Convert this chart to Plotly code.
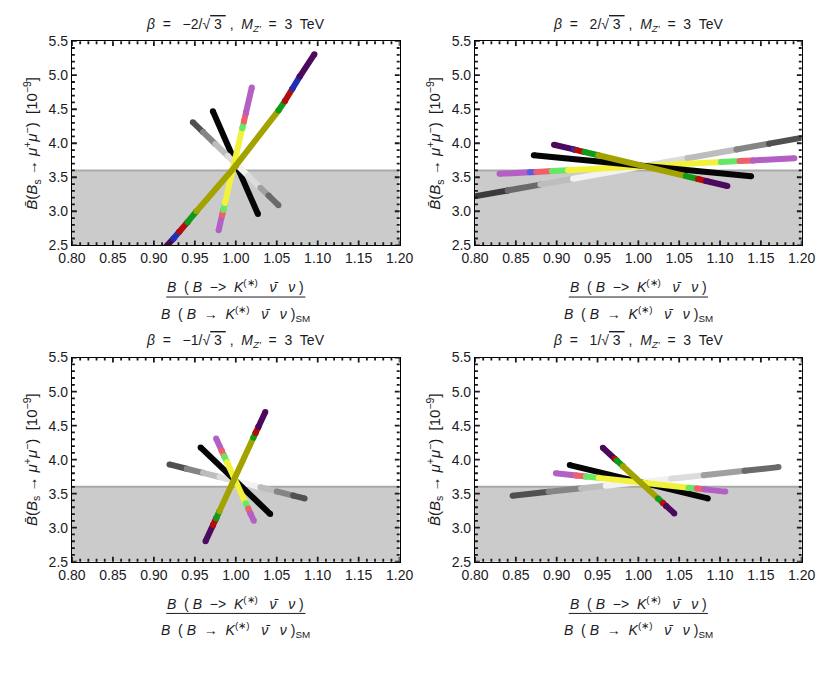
import plotly.graph_objects as go

# ---------------- data ----------------
X_RANGE = [0.80, 1.20]
Y_RANGE = [2.5, 5.5]
X_TICK0, X_DTICK, X_MINOR = 0.80, 0.05, 0.01
Y_TICK0, Y_DTICK, Y_MINOR = 2.5, 0.5, 0.1
BS_BOUND = 3.6  # upper end of the shaded band

TITLES = [
    "<i>β</i>  =   −2/√<span style='text-decoration:overline'> 3 </span> ,  <i>M</i><sub><i>Z′</i></sub>  =  3  TeV",
    "<i>β</i>  =   2/√<span style='text-decoration:overline'> 3 </span> ,  <i>M</i><sub><i>Z′</i></sub>  =  3  TeV",
    "<i>β</i>  =   −1/√<span style='text-decoration:overline'> 3 </span> ,  <i>M</i><sub><i>Z′</i></sub>  =  3  TeV",
    "<i>β</i>  =   1/√<span style='text-decoration:overline'> 3 </span> ,  <i>M</i><sub><i>Z′</i></sub>  =  3  TeV",
]

# segment colour codes: P purple, B blue, R red, G green, O olive,
# p light purple, b light blue, r light red, g light green, y yellow, K black, 2-9 grey shades
# ---- panel 1: beta = -2/sqrt3
P1_GREY_X = [0.9475, 0.960, 0.975, 0.990, 1.000, 1.015, 1.030, 1.040, 1.052]
P1_GREY_Y = [4.31, 4.164, 3.989, 3.814, 3.697, 3.522, 3.347, 3.231, 3.09]
P1_GREY_C = ["3", "5", "7", "8", "9", "8", "6", "4"]
P1_BLACK_X = [0.972, 1.027]
P1_BLACK_Y = [4.47, 2.96]
P1_BLACK_C = ["K"]
P1_LIGHT_X = [0.979, 0.9834, 0.9848, 0.9867, 1.0079, 1.0099, 1.0124, 1.0195]
P1_LIGHT_Y = [2.72, 2.95, 3.02, 3.12, 4.22, 4.32, 4.45, 4.82]
P1_LIGHT_C = ["p", "r", "g", "y", "g", "r", "p"]
P1_DARK_X = [0.913, 0.924, 0.931, 0.941, 0.952, 1.000, 1.052, 1.060, 1.069, 1.078, 1.096]
P1_DARK_Y = [2.46, 2.60, 2.70, 2.84, 3.00, 3.67, 4.48, 4.62, 4.80, 4.98, 5.31]
P1_DARK_C = ["P", "B", "R", "G", "O", "O", "G", "R", "B", "P"]

# ---- panel 2: beta = 2/sqrt3
P2_GREY_X = [0.79, 0.84, 0.88, 0.92, 1.00, 1.06, 1.12, 1.16, 1.21]
P2_GREY_Y = [3.199, 3.306, 3.392, 3.478, 3.65, 3.779, 3.908, 3.994, 4.102]
P2_GREY_C = ["2", "4", "7", "9", "8", "7", "5", "3"]
P2_LIGHT_X = [0.83, 0.867, 0.875, 0.894, 0.914, 1.101, 1.124, 1.140, 1.191]
P2_LIGHT_Y = [3.55, 3.574, 3.579, 3.591, 3.604, 3.723, 3.738, 3.748, 3.781]
P2_LIGHT_C = ["p", "b", "r", "g", "y", "g", "r", "p"]
P2_BLACK_X = [0.872, 1.138]
P2_BLACK_Y = [3.825, 3.515]
P2_BLACK_C = ["K"]
P2_DARK_X = [0.8967, 0.921, 0.924, 0.934, 0.951, 1.058, 1.073, 1.083, 1.109]
P2_DARK_Y = [3.978, 3.909, 3.900, 3.871, 3.823, 3.517, 3.474, 3.445, 3.371]
P2_DARK_C = ["P", "B", "R", "G", "O", "G", "R", "P"]

# ---- panel 3: beta = -1/sqrt3
P3_GREY_X = [0.919, 0.94, 0.96, 0.98, 1.00, 1.03, 1.05, 1.07, 1.084]
P3_GREY_Y = [3.93, 3.866, 3.806, 3.745, 3.685, 3.594, 3.533, 3.472, 3.43]
P3_GREY_C = ["3", "5", "7", "8", "9", "7", "5", "3"]
P3_BLACK_X = [0.957, 1.042]
P3_BLACK_Y = [4.18, 3.20]
P3_BLACK_C = ["K"]
P3_LIGHT_X = [0.976, 0.9828, 0.9859, 0.9893, 1.0121, 1.0152, 1.0178, 1.022]
P3_LIGHT_Y = [4.31, 4.13, 4.05, 3.96, 3.36, 3.28, 3.21, 3.10]
P3_LIGHT_C = ["p", "r", "g", "y", "g", "r", "p"]
P3_DARK_X = [0.963, 0.9722, 0.9761, 0.9799, 1.0214, 1.0241, 1.0275, 1.036]
P3_DARK_Y = [2.80, 3.04, 3.14, 3.24, 4.32, 4.39, 4.48, 4.70]
P3_DARK_C = ["P", "R", "G", "O", "G", "R", "P"]

# ---- panel 4: beta = 1/sqrt3
P4_GREY_X = [0.846, 0.89, 0.93, 0.96, 1.04, 1.08, 1.13, 1.1716]
P4_GREY_Y = [3.47, 3.527, 3.578, 3.617, 3.72, 3.772, 3.836, 3.89]
P4_GREY_C = ["3", "5", "7", "9", "8", "6", "4"]
P4_BLACK_X = [0.916, 1.085]
P4_BLACK_Y = [3.92, 3.43]
P4_BLACK_C = ["K"]
P4_LIGHT_X = [0.899, 0.924, 0.9357, 0.9514, 1.0615, 1.0714, 1.081, 1.1065]
P4_LIGHT_Y = [3.80, 3.767, 3.752, 3.732, 3.588, 3.575, 3.563, 3.530]
P4_LIGHT_C = ["p", "r", "g", "y", "g", "r", "p"]
P4_DARK_X = [0.9565, 0.971, 0.9735, 0.981, 1.024, 1.030, 1.034, 1.044]
P4_DARK_Y = [4.174, 4.014, 3.987, 3.904, 3.430, 3.364, 3.320, 3.210]
P4_DARK_C = ["P", "R", "G", "O", "G", "R", "P"]

PANELS = [
    [(P1_BLACK_X, P1_BLACK_Y, P1_BLACK_C), (P1_GREY_X, P1_GREY_Y, P1_GREY_C),
     (P1_LIGHT_X, P1_LIGHT_Y, P1_LIGHT_C), (P1_DARK_X, P1_DARK_Y, P1_DARK_C)],
    [(P2_GREY_X, P2_GREY_Y, P2_GREY_C), (P2_LIGHT_X, P2_LIGHT_Y, P2_LIGHT_C),
     (P2_BLACK_X, P2_BLACK_Y, P2_BLACK_C), (P2_DARK_X, P2_DARK_Y, P2_DARK_C)],
    [(P3_GREY_X, P3_GREY_Y, P3_GREY_C), (P3_BLACK_X, P3_BLACK_Y, P3_BLACK_C),
     (P3_LIGHT_X, P3_LIGHT_Y, P3_LIGHT_C), (P3_DARK_X, P3_DARK_Y, P3_DARK_C)],
    [(P4_GREY_X, P4_GREY_Y, P4_GREY_C), (P4_BLACK_X, P4_BLACK_Y, P4_BLACK_C),
     (P4_LIGHT_X, P4_LIGHT_Y, P4_LIGHT_C), (P4_DARK_X, P4_DARK_Y, P4_DARK_C)],
]

# ---------------- styles ----------------
COLORS = {
    "P": "#4b0a5e", "B": "#1f2fb8", "R": "#b40d0d", "G": "#119a1a", "O": "#a3a300",
    "p": "#b45fc4", "b": "#5a5ae6", "r": "#f0606a", "g": "#66e866", "y": "#f2f23c",
    "K": "#050505",
    "2": "#3a3a3a", "3": "#505050", "4": "#6a6a6a", "5": "#858585", "6": "#a0a0a0",
    "7": "#bdbdbd", "8": "#dcdcdc", "9": "#f2f2f2",
}
LINE_W = 6
FONT = "Liberation Sans, Arial, Helvetica, sans-serif"
TXT = "#1b1b24"
MAJOR_LEN, MINOR_LEN = 5, 3  # px

W, H = 836, 681
XDOM = [[60 / W, 399 / W], [477 / W, 815 / W]]
YDOM = [[1 - 243 / H, 1 - 34 / H], [1 - 567 / H, 1 - 358 / H]]

# tick positions derived from the axis settings
n_x = int(round((X_RANGE[1] - X_RANGE[0]) / X_MINOR))
n_y = int(round((Y_RANGE[1] - Y_RANGE[0]) / Y_MINOR))
x_step = int(round(X_DTICK / X_MINOR))
y_step = int(round(Y_DTICK / Y_MINOR))
X_TICK_POS = [(round(X_TICK0 + k * X_MINOR, 4), k % x_step == 0) for k in range(n_x + 1)]
Y_TICK_POS = [(round(Y_TICK0 + k * Y_MINOR, 4), k % y_step == 0) for k in range(n_y + 1)]

fig = go.Figure()

shapes = []
annotations = []
fraction_num = "<i>B</i>  ( <i>B</i>  −>  <i>K</i><sup>(∗)</sup>   <i>ν̄</i>   <i>ν</i> )"
fraction_den = "<i>B</i>  ( <i>B</i>  →  <i>K</i><sup>(∗)</sup>   <i>ν̄</i>   <i>ν</i> )<sub>SM</sub>"
ytitle = "<i>B̄</i>(<i>B</i><sub>s</sub> → <i>μ</i><sup>+</sup><i>μ</i><sup>−</sup>)  [10<sup>−9</sup>]"

layout_axes = {}
for i in range(4):
    r, c = i // 2, i % 2
    ax = "" if i == 0 else str(i + 1)
    xd, yd = XDOM[c], YDOM[r]
    xref, yref = "x" + ax, "y" + ax
    common = dict(
        ticks="", showline=True, linecolor="#000000", linewidth=1.2, mirror=True,
        showgrid=False, zeroline=False,
        tickfont=dict(family=FONT, size=14, color=TXT),
    )
    layout_axes["xaxis" + ax] = dict(
        domain=xd, anchor=yref, range=X_RANGE, tickmode="linear", tick0=X_TICK0,
        dtick=X_DTICK, tickformat=".2f", **common)
    layout_axes["yaxis" + ax] = dict(
        domain=yd, anchor=xref, range=Y_RANGE, tickmode="linear", tick0=Y_TICK0,
        dtick=Y_DTICK, tickformat=".1f", **common)

    for xs, ys, cs in PANELS[i]:
        for k, code in enumerate(cs):
            fig.add_trace(go.Scatter(
                x=xs[k:k + 2], y=ys[k:k + 2], xaxis=xref, yaxis=yref,
                mode="lines+markers",
                line=dict(color=COLORS[code], width=LINE_W),
                marker=dict(color=COLORS[code], size=LINE_W, line=dict(width=0)),
                showlegend=False, hoverinfo="skip"))

    shapes.append(dict(type="rect", xref=xref, yref=yref, x0=X_RANGE[0], x1=X_RANGE[1],
                       y0=Y_RANGE[0], y1=BS_BOUND, fillcolor="#cbcbcb",
                       line=dict(width=0), layer="below"))
    shapes.append(dict(type="line", xref=xref, yref=yref, x0=X_RANGE[0], x1=X_RANGE[1],
                       y0=BS_BOUND, y1=BS_BOUND, line=dict(color="#a9a9a9", width=2),
                       layer="below"))

    # inside ticks on all four sides
    h_px = (yd[1] - yd[0]) * H
    w_px = (xd[1] - xd[0]) * W
    for v, major in X_TICK_POS:
        L = (MAJOR_LEN if major else MINOR_LEN) / h_px
        for a, b in ((0, L), (1 - L, 1)):
            shapes.append(dict(type="line", xref=xref, yref=yref + " domain",
                               x0=v, x1=v, y0=a, y1=b,
                               line=dict(color="#1a1a1a", width=1.8)))
    for v, major in Y_TICK_POS:
        L = (MAJOR_LEN if major else MINOR_LEN) / w_px
        for a, b in ((0, L), (1 - L, 1)):
            shapes.append(dict(type="line", xref=xref + " domain", yref=yref,
                               x0=a, x1=b, y0=v, y1=v,
                               line=dict(color="#1a1a1a", width=1.8)))

    cx = (xd[0] + xd[1]) / 2
    top_px = (1 - yd[1]) * H
    bot_px = (1 - yd[0]) * H
    annotations.append(dict(text=TITLES[i], xref="paper", yref="paper", x=cx,
                            y=1 - (top_px - 17) / H, xanchor="center", yanchor="middle",
                            showarrow=False, font=dict(family=FONT, size=14, color=TXT)))
    annotations.append(dict(text=ytitle, xref="paper", yref="paper",
                            x=(xd[0] * W - 42) / W, y=(yd[0] + yd[1]) / 2,
                            xanchor="center", yanchor="middle", textangle=-90,
                            showarrow=False, font=dict(family=FONT, size=15, color=TXT)))
    annotations.append(dict(text=fraction_num, xref="paper", yref="paper", x=cx,
                            y=1 - (bot_px + 42) / H, xanchor="center", yanchor="middle",
                            showarrow=False, font=dict(family=FONT, size=14, color=TXT)))
    annotations.append(dict(text=fraction_den, xref="paper", yref="paper", x=cx,
                            y=1 - (bot_px + 70) / H, xanchor="center", yanchor="middle",
                            showarrow=False, font=dict(family=FONT, size=14, color=TXT)))
    shapes.append(dict(type="line", xref="paper", yref="paper",
                       x0=cx - 72 / W, x1=cx + 72 / W,
                       y0=1 - (bot_px + 53) / H, y1=1 - (bot_px + 53) / H,
                       line=dict(color=TXT, width=1)))

fig.update_layout(
    width=W, height=H, margin=dict(l=0, r=0, t=0, b=0),
    paper_bgcolor="white", plot_bgcolor="white",
    shapes=shapes, annotations=annotations, showlegend=False,
    **layout_axes,
)

fig.write_html("out.html")
